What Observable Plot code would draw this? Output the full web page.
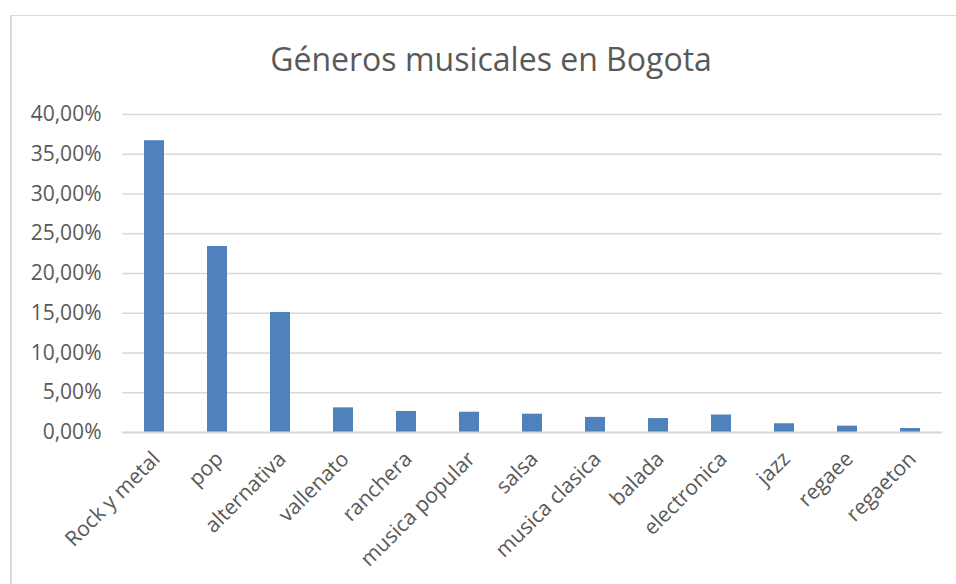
<!DOCTYPE html>
<html>
<head>
<meta charset="utf-8">
<script src="https://cdn.jsdelivr.net/npm/d3@7"></script>
<script src="https://cdn.jsdelivr.net/npm/@observablehq/plot@0.6"></script>
<style>
  html, body { margin: 0; padding: 0; background: #fff; }
  #wrap { position: relative; width: 956px; height: 584px; overflow: hidden; font-family: "Open Sans", sans-serif; }
  #frame { position: absolute; left: 10px; top: 15px; width: 1000px; height: 600px; border-left: 2px solid #d9d9d9; border-top: 1px solid #d9d9d9; box-sizing: border-box; }
  #title { position: absolute; left: 0; width: 982px; top: 37px; text-align: center; font-size: 32px; color: #595959; line-height: 44px; }
  #chart { position: absolute; left: 0; top: 0; }
</style>
</head>
<body>
<div id="wrap">
  <div id="frame"></div>
  <div id="chart"></div>
  <div id="title">Géneros musicales en Bogota</div>
</div>
<script>
const categories = ["Rock y metal", "pop", "alternativa", "vallenato", "ranchera", "musica popular", "salsa", "musica clasica", "balada", "electronica", "jazz", "regaee", "regaeton"];
const values = [36.7, 23.4, 15.1, 3.1, 2.65, 2.55, 2.3, 1.9, 1.75, 2.2, 1.1, 0.8, 0.5];
const yTicks = [0, 5, 10, 15, 20, 25, 30, 35, 40];

const data = categories.map((c, i) => ({genre: c, value: values[i]}));
const fmt = v => v.toFixed(2).replace(".", ",") + "%";

const chart = Plot.plot({
  width: 956,
  height: 584,
  marginTop: 114,
  marginBottom: 152,
  marginLeft: 122,
  marginRight: 14,
  style: {fontFamily: "'Open Sans', sans-serif", fontSize: "21px", color: "#595959", background: "transparent"},
  x: {domain: categories, paddingInner: 0.68, paddingOuter: 0.34, axis: null},
  y: {domain: [0, 40], ticks: yTicks, tickFormat: fmt},
  marks: [
    Plot.ruleY(yTicks, {stroke: "#d9d9d9", strokeWidth: 1.3}),
    Plot.axisY({ticks: yTicks, tickFormat: fmt, tickSize: 0, tickPadding: 21, fontSize: 21, label: null, fill: "#595959"}),
    Plot.barY(data, {x: "genre", y: "value", fill: "#4f81bd"}),
    Plot.ruleY([0], {stroke: "#d9d9d9", strokeWidth: 2}),
    Plot.text(categories, {x: d => d, y: 0, text: d => d, rotate: -45, textAnchor: "end", dx: 2, dy: 23, fontSize: 21, fill: "#595959"})
  ]
});
document.getElementById("chart").appendChild(chart);
</script>
</body>
</html>
